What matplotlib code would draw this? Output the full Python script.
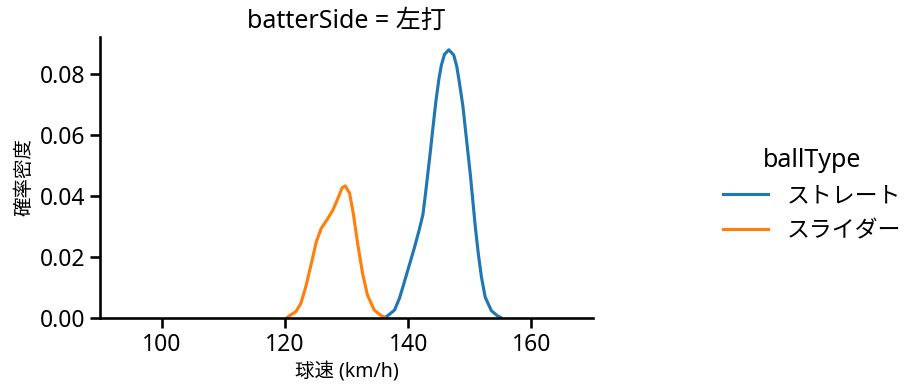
import matplotlib
matplotlib.use("Agg")
import matplotlib.pyplot as plt

plt.rcParams['font.family'] = ['Noto Sans', 'Noto Sans CJK JP', 'DejaVu Sans']

speed_straight = [136.3, 136.7, 137.8, 138.6, 139.4, 140.2, 141.0, 141.8, 142.4, 142.8,
                  143.2, 143.6, 144.0, 144.5, 145.0, 145.4, 145.9, 146.6, 147.4, 147.9,
                  148.3, 148.9, 149.4, 150.1, 150.5, 150.9, 151.4, 151.9, 152.5, 153.5,
                  154.5, 155.0]
dens_straight = [0.0003, 0.0009, 0.0027, 0.0066, 0.0120, 0.0175, 0.0230, 0.0290, 0.0340, 0.0405,
                 0.0475, 0.0545, 0.0620, 0.0710, 0.0785, 0.0830, 0.0865, 0.0880, 0.0863, 0.0825,
                 0.0775, 0.0694, 0.0600, 0.0470, 0.0385, 0.0300, 0.0210, 0.0135, 0.0070, 0.0025,
                 0.0008, 0.0003]
speed_slider = [120.4, 120.7, 121.8, 122.6, 123.4, 124.3, 125.1, 125.9, 126.9, 127.8,
                128.6, 129.3, 129.8, 130.5, 131.1, 131.8, 132.6, 133.4, 134.5, 135.6,
                136.2]
dens_slider = [0.0003, 0.0008, 0.0022, 0.0049, 0.0104, 0.0180, 0.0251, 0.0295, 0.0325, 0.0355,
               0.0393, 0.0428, 0.0434, 0.0410, 0.0344, 0.0246, 0.0148, 0.0076, 0.0027, 0.0009,
               0.0004]
series_names = ['ストレート', 'スライダー']
colors = ['#1f77b4', '#ff7f0e']
x_ticks = [100, 120, 140, 160]
y_ticks = [0.00, 0.02, 0.04, 0.06, 0.08]

fig = plt.figure(figsize=(9.21, 3.91), dpi=100)
ax = fig.add_axes([100/921, (391-318.3)/391, (593-100)/921, (318.3-36.7)/391])

l1, = ax.plot(speed_straight, dens_straight, color=colors[0], lw=2.25,
              label=series_names[0], solid_joinstyle='round')
l2, = ax.plot(speed_slider, dens_slider, color=colors[1], lw=2.25,
              label=series_names[1], solid_joinstyle='round')

ax.set_xlim(90, 170)
ax.set_ylim(0, 0.0923)
ax.set_xticks(x_ticks)
ax.set_yticks(y_ticks)
ax.set_yticklabels([f"{v:.2f}" for v in y_ticks])
ax.tick_params(labelsize=16.5, width=1.875, length=7)
for s in ['top', 'right']:
    ax.spines[s].set_visible(False)
for s in ['left', 'bottom']:
    ax.spines[s].set_linewidth(1.875)

ax.set_xlabel('球速 (km/h)', fontsize=14)
ax.set_ylabel('確率密度', fontsize=14)
ax.set_title('batterSide = 左打', fontsize=18)

leg = fig.legend(handles=[l1, l2], title='ballType', loc='center left',
                 bbox_to_anchor=(702/921, 0.5), frameon=False,
                 fontsize=16.5, title_fontsize=18)

fig.savefig('out.png', dpi=100)
